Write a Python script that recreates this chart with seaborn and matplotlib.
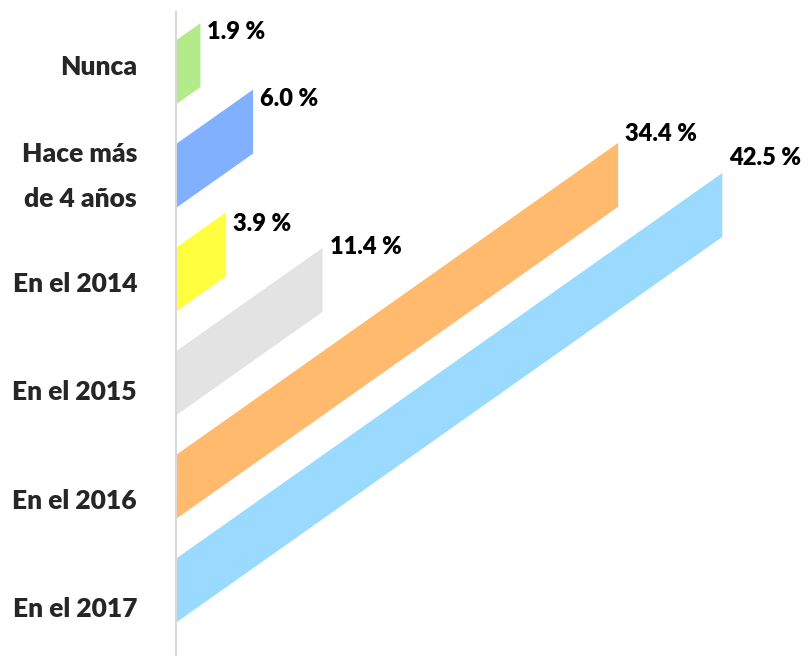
import numpy as np
import pandas as pd
import matplotlib
matplotlib.use('Agg')
import matplotlib.pyplot as plt
import seaborn as sns
from matplotlib.transforms import Affine2D, ScaledTranslation

categories = ['Nunca', 'Hace más\nde 4 años', 'En el 2014', 'En el 2015', 'En el 2016', 'En el 2017']
values = [1.9, 6.0, 3.9, 11.4, 34.4, 42.5]
value_labels = ['1.9 %', '6.0 %', '3.9 %', '11.4 %', '34.4 %', '42.5 %']
colors = ['#B3EB8A', '#80B0FF', '#FFFF40', '#E3E3E3', '#FFBA6E', '#9BDAFF']

# vertical nudges of the value labels (pixels, + is up)
label_dy = [-9, -9, -12, 1, 9, 15]

df = pd.DataFrame({'cat': categories, 'val': values})

sns.set_style('white')
plt.rcParams['font.family'] = ['Lato', 'DejaVu Sans']

fig = plt.figure(figsize=(8.08, 6.58), dpi=100)
ax = fig.add_axes([176 / 808, 3 / 658, 617 / 808, 643 / 658])

bar_w = 0.617
sns.barplot(data=df, x='val', y='cat', hue='cat', palette=colors, orient='h',
            width=bar_w, saturation=1, legend=False, ax=ax)

ax.set_xlim(0, 48)
ax.set_ylim(5.44, -0.49)

# shear the bars so they rise to the right like the 3D original,
# and squeeze them a little towards the middle (perspective look)
x0 = ax.transData.transform((0, 0))[0]
yc = ax.transData.transform((0, 2.5))[1]
shear = (Affine2D().translate(-x0, -yc).scale(1, 0.956)
         .skew(0, np.arctan(0.706)).translate(x0, yc + 4.7))
tr = ax.transData + shear
for p in ax.patches:
    p.set_transform(tr)
    p.set_edgecolor('none')
    p.set_clip_on(False)

for i, (v, lab) in enumerate(zip(values, value_labels)):
    ax.annotate(lab, xy=(v, i - bar_w / 2), xycoords=tr,
                xytext=(7, label_dy[i]), textcoords='offset pixels',
                ha='left', va='center', fontsize=17, fontweight='heavy', color='black')

for s in ['top', 'right', 'bottom']:
    ax.spines[s].set_visible(False)
ax.spines['left'].set_color('#D9D9D9')
ax.spines['left'].set_linewidth(1.5)

ax.set_xticks([])
ax.set_xlabel('')
ax.set_ylabel('')
ax.tick_params(axis='y', length=0, pad=28)
for t in ax.get_yticklabels():
    t.set_fontsize(19)
    t.set_fontweight('heavy')
    t.set_linespacing(2.03)
# the two-line label sits a bit low, lift it
lbl = ax.get_yticklabels()[1]
lbl.set_transform(lbl.get_transform() + ScaledTranslation(0, 9.5 / 100, fig.dpi_scale_trans))

fig.savefig('out.png', dpi=100)
